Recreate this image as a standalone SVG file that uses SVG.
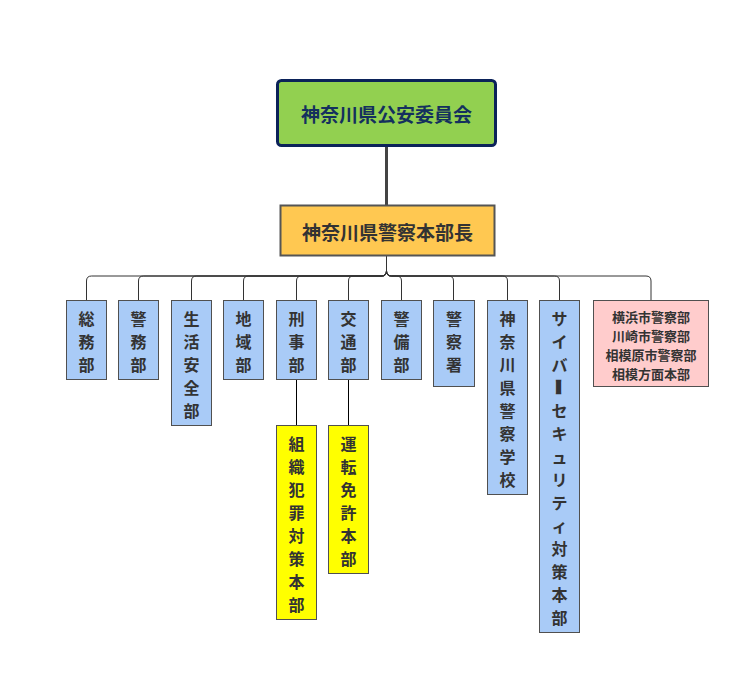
<svg xmlns="http://www.w3.org/2000/svg" width="756" height="681" viewBox="0 0 756 681">
<style>
text{font-family:"Noto Sans CJK JP","Noto Sans CJK SC",sans-serif;font-weight:bold;fill:#333;text-anchor:middle;dominant-baseline:central}
.v{font-size:16px}
.p{font-size:13px}
.t{font-size:19px}
.blue{fill:#a9cbf7;stroke:#505050;stroke-width:1}
.yel{fill:#ffff00;stroke:#505050;stroke-width:1}
.pink{fill:#ffcccc;stroke:#505050;stroke-width:1}
.c{fill:none;stroke:#333;stroke-width:1}
</style>
<rect width="756" height="681" fill="#fff"/>
<g id="connectors">
<line x1="386.5" y1="146" x2="386.5" y2="205" stroke="#444" stroke-width="3"/>
<path class="c" d="M386.5 256V271Q386.5 276 381.5 276H91.5Q86.5 276 86.5 281V301"/>
<path class="c" d="M386.5 271Q386.5 276 381.5 276H143.5Q138.5 276 138.5 281V301"/>
<path class="c" d="M386.5 271Q386.5 276 381.5 276H196.5Q191.5 276 191.5 281V301"/>
<path class="c" d="M386.5 271Q386.5 276 381.5 276H248.5Q243.5 276 243.5 281V301"/>
<path class="c" d="M386.5 271Q386.5 276 381.5 276H301.5Q296.5 276 296.5 281V301"/>
<path class="c" d="M386.5 271Q386.5 276 381.5 276H353.5Q348.5 276 348.5 281V301"/>
<path class="c" d="M386.5 271Q386.5 276 391.5 276H396.5Q401.5 276 401.5 281V301"/>
<path class="c" d="M386.5 271Q386.5 276 391.5 276H448.5Q453.5 276 453.5 281V301"/>
<path class="c" d="M386.5 271Q386.5 276 391.5 276H502.5Q507.5 276 507.5 281V301"/>
<path class="c" d="M386.5 271Q386.5 276 391.5 276H554.5Q559.5 276 559.5 281V301"/>
<path class="c" d="M386.5 271Q386.5 276 391.5 276H646Q651 276 651 281V301"/>
<line x1="296.5" y1="380" x2="296.5" y2="426" stroke="#000" stroke-width="1"/>
<line x1="348.5" y1="380" x2="348.5" y2="426" stroke="#000" stroke-width="1"/>
</g>
<g id="iinkai">
<rect x="277.5" y="80.5" width="218" height="65" rx="4" fill="#92d050" stroke="#0b2259" stroke-width="3"/>
<text class="t" x="386.5" y="113" style="fill:#14305e">神奈川県公安委員会</text>
</g>
<g id="honbucho">
<rect x="280.5" y="205.5" width="214" height="50" fill="#ffc851" stroke="#555" stroke-width="2"/>
<text class="t" x="387.5" y="231">神奈川県警察本部長</text>
</g>
<g id="somu">
<rect class="blue" x="66.5" y="300.5" width="40" height="79"/>
<text class="v"><tspan x="86.5" y="317.5">総</tspan><tspan x="86.5" y="340.5">務</tspan><tspan x="86.5" y="363.5">部</tspan></text>
</g>
<g id="keimu">
<rect class="blue" x="118.5" y="300.5" width="40" height="79"/>
<text class="v"><tspan x="138.5" y="317.5">警</tspan><tspan x="138.5" y="340.5">務</tspan><tspan x="138.5" y="363.5">部</tspan></text>
</g>
<g id="seikatsu">
<rect class="blue" x="171.5" y="300.5" width="40" height="125"/>
<text class="v"><tspan x="191.5" y="317.5">生</tspan><tspan x="191.5" y="340.5">活</tspan><tspan x="191.5" y="363.5">安</tspan><tspan x="191.5" y="386.5">全</tspan><tspan x="191.5" y="409.5">部</tspan></text>
</g>
<g id="chiiki">
<rect class="blue" x="223.5" y="300.5" width="40" height="79"/>
<text class="v"><tspan x="243.5" y="317.5">地</tspan><tspan x="243.5" y="340.5">域</tspan><tspan x="243.5" y="363.5">部</tspan></text>
</g>
<g id="keiji">
<rect class="blue" x="276.5" y="300.5" width="40" height="79"/>
<text class="v"><tspan x="296.5" y="317.5">刑</tspan><tspan x="296.5" y="340.5">事</tspan><tspan x="296.5" y="363.5">部</tspan></text>
</g>
<g id="kotsu">
<rect class="blue" x="328.5" y="300.5" width="40" height="79"/>
<text class="v"><tspan x="348.5" y="317.5">交</tspan><tspan x="348.5" y="340.5">通</tspan><tspan x="348.5" y="363.5">部</tspan></text>
</g>
<g id="keibi">
<rect class="blue" x="381.5" y="300.5" width="40" height="79"/>
<text class="v"><tspan x="401.5" y="317.5">警</tspan><tspan x="401.5" y="340.5">備</tspan><tspan x="401.5" y="363.5">部</tspan></text>
</g>
<g id="keisatsusho">
<rect class="blue" x="433.5" y="300.5" width="41" height="86"/>
<text class="v"><tspan x="454" y="317.5">警</tspan><tspan x="454" y="340.5">察</tspan><tspan x="454" y="363.5">署</tspan></text>
</g>
<g id="gakko">
<rect class="blue" x="487.5" y="300.5" width="40" height="194"/>
<text class="v"><tspan x="507.5" y="317.5">神</tspan><tspan x="507.5" y="340.5">奈</tspan><tspan x="507.5" y="363.5">川</tspan><tspan x="507.5" y="386.5">県</tspan><tspan x="507.5" y="409.5">警</tspan><tspan x="507.5" y="432.5">察</tspan><tspan x="507.5" y="455.5">学</tspan><tspan x="507.5" y="478.5">校</tspan></text>
</g>
<g id="cyber">
<rect class="blue" x="539.5" y="300.5" width="40" height="332"/>
<text class="v"><tspan x="559.5" y="317.5">サ</tspan><tspan x="559.5" y="340.5">イ</tspan><tspan x="559.5" y="363.5">バ</tspan></text>
<text class="v" transform="translate(560 387) rotate(90) scale(1.1 2.2)" x="0" y="0">ー</text>
<text class="v"><tspan x="559.5" y="409.5">セ</tspan><tspan x="559.5" y="432.5">キ</tspan><tspan x="559.5" y="455.5">ュ</tspan><tspan x="559.5" y="478.5">リ</tspan><tspan x="559.5" y="501.5">テ</tspan><tspan x="559.5" y="524.5">ィ</tspan><tspan x="559.5" y="547.5">対</tspan><tspan x="559.5" y="570.5">策</tspan><tspan x="559.5" y="593.5">本</tspan><tspan x="559.5" y="616.5">部</tspan></text>
</g>
<g id="homen">
<rect class="pink" x="593.5" y="300.5" width="115" height="86"/>
<text class="p"><tspan x="651" y="315.5">横浜市警察部</tspan><tspan x="651" y="334.5">川崎市警察部</tspan><tspan x="651" y="353.5">相模原市警察部</tspan><tspan x="651" y="372.5">相模方面本部</tspan></text>
</g>
<g id="soshiki">
<rect class="yel" x="276.5" y="425.5" width="40" height="194"/>
<text class="v"><tspan x="296.5" y="442.5">組</tspan><tspan x="296.5" y="465.5">織</tspan><tspan x="296.5" y="488.5">犯</tspan><tspan x="296.5" y="511.5">罪</tspan><tspan x="296.5" y="534.5">対</tspan><tspan x="296.5" y="557.5">策</tspan><tspan x="296.5" y="580.5">本</tspan><tspan x="296.5" y="603.5">部</tspan></text>
</g>
<g id="menkyo">
<rect class="yel" x="328.5" y="425.5" width="40" height="148"/>
<text class="v"><tspan x="348.5" y="442.5">運</tspan><tspan x="348.5" y="465.5">転</tspan><tspan x="348.5" y="488.5">免</tspan><tspan x="348.5" y="511.5">許</tspan><tspan x="348.5" y="534.5">本</tspan><tspan x="348.5" y="557.5">部</tspan></text>
</g>
</svg>
